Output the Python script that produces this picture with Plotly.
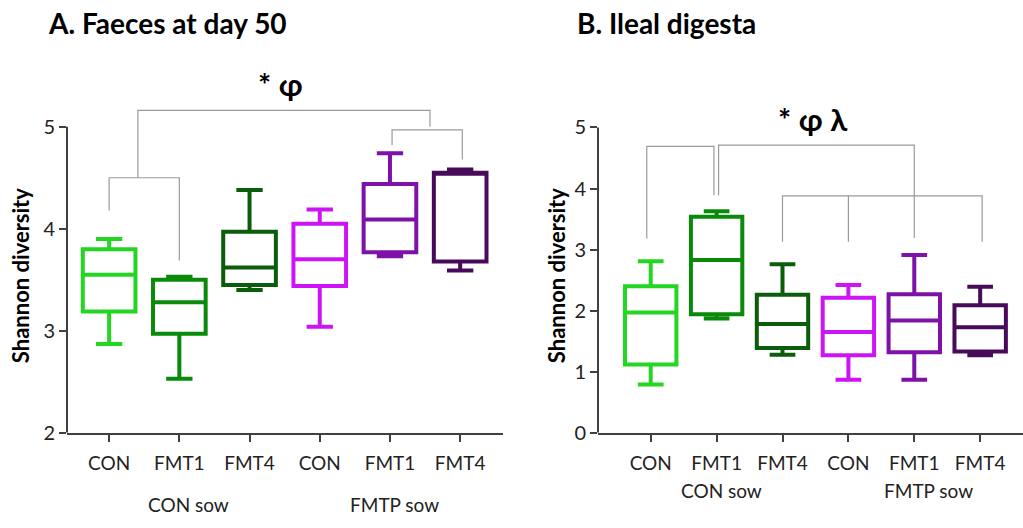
import plotly.graph_objects as go

# ---------------- data ----------------
categories = ["CON", "FMT1", "FMT4", "CON", "FMT1", "FMT4"]
groups = ["CON sow", "FMTP sow"]
colors = ["#22D622", "#0A8A0A", "#0B5C0B", "#CC14F5", "#7E12A8", "#480A5A"]

# Panel A: Faeces at day 50
a_min = [2.87, 2.53, 3.40, 3.04, 3.73, 3.59]
a_q1 = [3.19, 2.97, 3.45, 3.44, 3.77, 3.68]
a_med = [3.55, 3.28, 3.62, 3.70, 4.09, 4.55]
a_q3 = [3.80, 3.50, 3.97, 4.05, 4.44, 4.55]
a_max = [3.90, 3.53, 4.38, 4.19, 4.74, 4.58]

# Panel B: Ileal digesta
b_min = [0.79, 1.87, 1.28, 0.87, 0.87, 1.27]
b_q1 = [1.12, 1.94, 1.39, 1.27, 1.32, 1.33]
b_med = [1.97, 2.83, 1.78, 1.65, 1.84, 1.73]
b_q3 = [2.40, 3.54, 2.26, 2.21, 2.27, 2.09]
b_max = [2.81, 3.63, 2.76, 2.42, 2.91, 2.39]

a_yticks = [2, 3, 4, 5]
b_yticks = [0, 1, 2, 3, 4, 5]

# significance brackets (x in category index units, y in data units)
a_brackets = [
    [(0, 4.18), (0, 4.50), (1, 4.50), (1, 3.69)],
    [(0.41, 4.50), (0.41, 5.16), (4.57, 5.16), (4.57, 5.00)],
    [(4.03, 4.82), (4.03, 4.97), (5.03, 4.97), (5.03, 4.68)],
]
b_brackets = [
    [(-0.06, 3.18), (-0.06, 4.69), (0.96, 4.69), (0.96, 3.89)],
    [(1.03, 3.89), (1.03, 4.71), (4.0, 4.71), (4.0, 3.19)],
    [(2.0, 3.13), (2.0, 3.88), (5.03, 3.88), (5.03, 3.13)],
    [(3.0, 3.88), (3.0, 3.13)],
]

FONT = "Lato"
idx = list(range(len(categories)))

fig = go.Figure()


def add_boxes(xaxis, yaxis, mn, q1, med, q3, mx, width):
    for i in idx:
        fig.add_trace(go.Box(
            x=[i], q1=[q1[i]], median=[med[i]], q3=[q3[i]],
            lowerfence=[mn[i]], upperfence=[mx[i]],
            width=width, whiskerwidth=0.5,
            line=dict(color=colors[i], width=4),
            fillcolor="white", boxpoints=False,
            xaxis=xaxis, yaxis=yaxis, showlegend=False,
            hoverinfo="skip",
        ))


add_boxes("x", "y", a_min, a_q1, a_med, a_q3, a_max, 0.75)
add_boxes("x2", "y2", b_min, b_q1, b_med, b_q3, b_max, 0.78)

shapes = []
for br in a_brackets:
    path = "M " + " L ".join(f"{x},{y}" for x, y in br)
    shapes.append(dict(type="path", path=path, xref="x", yref="y",
                       line=dict(color="#9A9A9A", width=1.2)))
for br in b_brackets:
    path = "M " + " L ".join(f"{x},{y}" for x, y in br)
    shapes.append(dict(type="path", path=path, xref="x2", yref="y2",
                       line=dict(color="#9A9A9A", width=1.2)))

# y axis lines ending at top tick
shapes.append(dict(type="line", xref="x domain", yref="y", x0=0, x1=0,
                   y0=a_yticks[0], y1=a_yticks[-1],
                   line=dict(color="#404040", width=2)))
shapes.append(dict(type="line", xref="x2 domain", yref="y2", x0=0, x1=0,
                   y0=b_yticks[0], y1=b_yticks[-1],
                   line=dict(color="#404040", width=2)))

W, H = 1023, 528


def px(x):
    return x / W


def py(y):
    return 1 - y / H


tickfont = dict(family=FONT, size=19, color="#222")
common_x = dict(tickmode="array", tickvals=idx, ticktext=categories,
                showline=True, linecolor="#404040", linewidth=2,
                ticks="outside", ticklen=7, tickwidth=1.5, tickcolor="#404040",
                showgrid=False, zeroline=False, tickfont=tickfont,
                ticklabelstandoff=5)
common_y = dict(showline=False, ticks="outside", ticklen=7, tickwidth=1.5,
                tickcolor="#404040", showgrid=False, zeroline=False,
                tickfont=dict(family=FONT, size=20, color="#222"),
                tickmode="array")

fig.update_layout(
    width=W, height=H,
    margin=dict(l=0, r=0, t=0, b=0),
    paper_bgcolor="white", plot_bgcolor="white",
    xaxis=dict(domain=[px(67), px(503)], range=[-0.6, 5.61], anchor="y", **common_x),
    yaxis=dict(domain=[py(442), py(93)], range=[2, 5.35], anchor="x",
               tickvals=a_yticks, **common_y),
    xaxis2=dict(domain=[px(598), 1.0], range=[-0.8, 5.65], anchor="y2", **common_x),
    yaxis2=dict(domain=[py(442), py(99)], range=[0, 5.5], anchor="x2",
                tickvals=b_yticks, **common_y),
    shapes=shapes,
)


def note(text, x, y, size, xanchor="center", angle=0, color="black"):
    return dict(text=text, x=px(x), y=py(y), xref="paper", yref="paper",
                xanchor=xanchor, yanchor="middle", showarrow=False, textangle=angle,
                font=dict(family=FONT, size=size, color=color))


ann = [
    note("<b>A. Faeces at day 50</b>", 46, 24, 28, xanchor="left"),
    note("<b>B. Ileal digesta</b>", 575, 24, 28, xanchor="left"),
    note("<b>* φ</b>", 280, 86, 31),
    note("<b>* φ λ</b>", 813, 122, 31),
    note("<b>Shannon diversity</b>", 20, 282, 22, angle=-90),
    note("<b>Shannon diversity</b>", 556, 282, 22, angle=-90),
]
for g, (xx, yy) in zip(groups, [(188, 515), (394, 515)]):
    ann.append(note(g, xx, yy, 19, color="#222"))
for g, (xx, yy) in zip(groups, [(721, 501), (928, 501)]):
    ann.append(note(g, xx, yy, 19, color="#222"))
fig.update_layout(annotations=ann)

page_fix = (
    "var gd=document.getElementById('{plot_id}');"
    "document.documentElement.style.margin='0';"
    "document.documentElement.style.overflow='hidden';"
    "document.body.style.margin='0';"
    "document.body.style.overflow='hidden';"
    "gd.style.position='fixed';gd.style.left='0px';gd.style.top='0px';"
)
fig.write_html("out.html", config={"displayModeBar": False}, post_script=page_fix)
